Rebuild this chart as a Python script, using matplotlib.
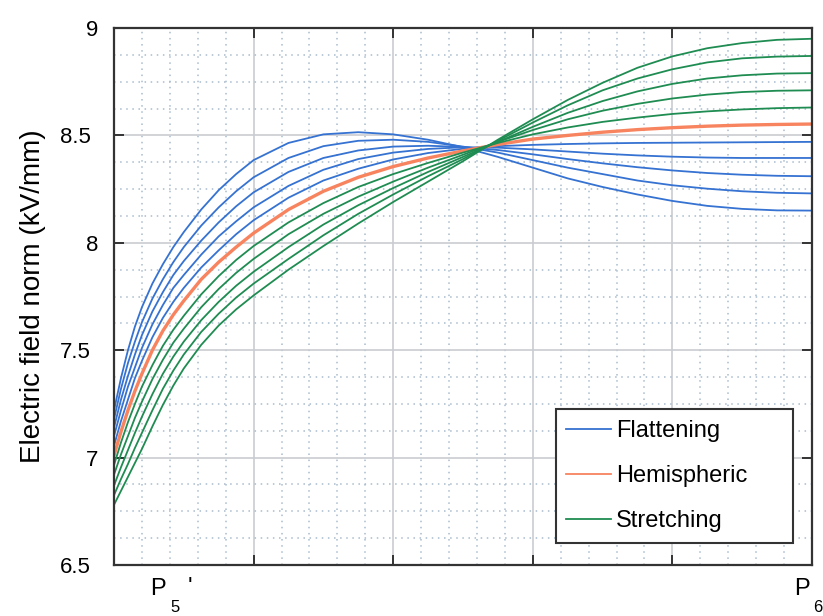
import numpy as np
import matplotlib
matplotlib.use("Agg")
import matplotlib.pyplot as plt
import matplotlib.transforms as mtransforms

plt.rcParams["font.family"] = ["Liberation Sans", "DejaVu Sans"]

# Posicion normalizada entre P5' y P6
x = [0, 0.01, 0.02, 0.03, 0.04, 0.055, 0.07, 0.085, 0.1, 0.125, 0.15, 0.175, 0.2, 0.25, 0.3,
     0.35, 0.4, 0.45, 0.5, 0.55, 0.6, 0.65, 0.7, 0.75, 0.8, 0.85, 0.9, 0.95, 1.0]

# Curvas "Flattening" (azul)
flat_1 = [7.22, 7.37, 7.50, 7.61, 7.70, 7.81, 7.90, 7.98, 8.05, 8.155, 8.245, 8.32, 8.385, 8.465, 8.505,
          8.515, 8.505, 8.48, 8.445, 8.40, 8.35, 8.30, 8.26, 8.225, 8.195, 8.172, 8.158, 8.151, 8.15]
flat_2 = [7.18, 7.32, 7.44, 7.54, 7.63, 7.74, 7.83, 7.91, 7.98, 8.08, 8.165, 8.24, 8.305, 8.395, 8.45,
          8.475, 8.48, 8.47, 8.448, 8.42, 8.385, 8.35, 8.32, 8.29, 8.268, 8.252, 8.24, 8.233, 8.23]
flat_3 = [7.14, 7.27, 7.38, 7.48, 7.57, 7.68, 7.77, 7.85, 7.915, 8.01, 8.095, 8.17, 8.235, 8.33, 8.395,
          8.43, 8.448, 8.452, 8.446, 8.432, 8.412, 8.39, 8.37, 8.352, 8.337, 8.325, 8.317, 8.312, 8.31]
flat_4 = [7.10, 7.22, 7.33, 7.42, 7.51, 7.62, 7.71, 7.79, 7.85, 7.945, 8.03, 8.10, 8.165, 8.265, 8.34,
          8.39, 8.42, 8.437, 8.445, 8.443, 8.435, 8.425, 8.415, 8.407, 8.401, 8.397, 8.395, 8.395, 8.395]
flat_5 = [7.055, 7.17, 7.27, 7.37, 7.45, 7.56, 7.65, 7.725, 7.79, 7.885, 7.965, 8.04, 8.105, 8.21, 8.29,
          8.345, 8.388, 8.418, 8.438, 8.45, 8.456, 8.46, 8.463, 8.465, 8.466, 8.467, 8.468, 8.469, 8.47]

# Curva "Hemispheric" (naranja)
hemi = [7.01, 7.12, 7.22, 7.31, 7.39, 7.50, 7.59, 7.665, 7.73, 7.83, 7.91, 7.98, 8.045, 8.155, 8.24,
        8.305, 8.355, 8.395, 8.428, 8.458, 8.483, 8.50, 8.515, 8.527, 8.536, 8.543, 8.548, 8.551, 8.553]

# Curvas "Stretching" (verde)
stre_1 = [6.965, 7.07, 7.165, 7.25, 7.33, 7.43, 7.52, 7.595, 7.66, 7.76, 7.845, 7.92, 7.985, 8.095, 8.185,
          8.26, 8.32, 8.372, 8.42, 8.465, 8.505, 8.537, 8.563, 8.583, 8.60, 8.612, 8.621, 8.627, 8.63]
stre_2 = [6.92, 7.015, 7.10, 7.185, 7.26, 7.365, 7.455, 7.535, 7.60, 7.70, 7.785, 7.86, 7.925, 8.04, 8.135,
          8.215, 8.285, 8.35, 8.41, 8.47, 8.525, 8.575, 8.615, 8.647, 8.672, 8.69, 8.702, 8.708, 8.71]
stre_3 = [6.87, 6.955, 7.035, 7.115, 7.19, 7.295, 7.39, 7.47, 7.54, 7.64, 7.725, 7.80, 7.865, 7.98, 8.085,
          8.175, 8.255, 8.33, 8.40, 8.47, 8.54, 8.605, 8.66, 8.705, 8.74, 8.765, 8.78, 8.788, 8.79]
stre_4 = [6.825, 6.90, 6.97, 7.045, 7.115, 7.22, 7.32, 7.405, 7.48, 7.585, 7.67, 7.745, 7.81, 7.925, 8.035,
          8.135, 8.225, 8.31, 8.39, 8.475, 8.56, 8.64, 8.71, 8.765, 8.808, 8.84, 8.859, 8.867, 8.87]
stre_5 = [6.78, 6.845, 6.91, 6.975, 7.04, 7.145, 7.245, 7.335, 7.415, 7.525, 7.615, 7.69, 7.755, 7.875, 7.985,
          8.09, 8.19, 8.285, 8.38, 8.48, 8.575, 8.665, 8.745, 8.815, 8.868, 8.906, 8.93, 8.945, 8.95]

flat = [flat_1, flat_2, flat_3, flat_4, flat_5]
stre = [stre_1, stre_2, stre_3, stre_4, stre_5]

yticks = [6.5, 7, 7.5, 8, 8.5, 9]
ytick_labels = ["6.5", "7", "7.5", "8", "8.5", "9"]

azul = "#3572d1"
naranja = "#f7845f"
verde = "#1f8c52"

fig = plt.figure(figsize=(8.23, 6.16), dpi=100)
ax = fig.add_axes([0.1385, 0.0828, 0.8481, 0.8717])

for i, c in enumerate(flat):
    ax.plot(x, c, color=azul, lw=1.3, label="Flattening" if i == 0 else None)
ax.plot(x, hemi, color=naranja, lw=2.4, label="Hemispheric")
for i, c in enumerate(stre):
    ax.plot(x, c, color=verde, lw=1.3, label="Stretching" if i == 0 else None)

ax.set_xlim(0, 1)
ax.set_ylim(6.5, 9)

# Rejilla
ax.set_xticks(np.arange(0, 1.01, 0.2))
ax.set_xticks(np.arange(0, 1.01, 0.04), minor=True)
ax.set_yticks(yticks)
ax.set_yticks(np.arange(6.5, 9.01, 0.125), minor=True)
ax.set_yticklabels(ytick_labels, fontsize=16)
ax.set_xticklabels([""] * 6)
ax.grid(which="major", color="#c9ccd0", lw=1.2, ls="-")
ax.grid(which="minor", color="#a9bccd", lw=1.1, ls=(0, (1, 3)))
ax.set_axisbelow(True)
ax.tick_params(which="major", direction="in", length=7, width=1.4, color="#333333",
               top=True, right=True, pad=11.5)
ax.tick_params(which="minor", length=0)
for s in ax.spines.values():
    s.set_linewidth(1.6)
    s.set_color("#333333")

# las etiquetas con decimal quedan algo mas a la izquierda
desplaza = mtransforms.ScaledTranslation(-0.07, 0, fig.dpi_scale_trans)
for lab in ax.get_yticklabels():
    if "." in lab.get_text():
        lab.set_transform(lab.get_transform() + desplaza)

ax.set_ylabel("Electric field norm (kV/mm)", fontsize=20, labelpad=10)

# Etiquetas de los extremos
ax.text(0.063, -0.025, "P", transform=ax.transAxes, fontsize=17, ha="center", va="top")
ax.text(0.087, -0.065, "5", transform=ax.transAxes, fontsize=12, ha="center", va="top")
ax.text(0.109, -0.022, "'", transform=ax.transAxes, fontsize=17, ha="center", va="top")
ax.text(0.985, -0.025, "P", transform=ax.transAxes, fontsize=17, ha="center", va="top")
ax.text(1.0143, -0.065, "6", transform=ax.transAxes, fontsize=12, ha="right", va="top")

leg = ax.legend(loc="lower left", bbox_to_anchor=(0.633, 0.041, 0.3395, 0.25), mode="expand",
                fontsize=17, fancybox=False, framealpha=1, edgecolor="#333333",
                handlelength=1.9, labelspacing=0.98, borderpad=0.45, handletextpad=0.2,
                borderaxespad=0)
leg.get_frame().set_linewidth(1.5)
for h in leg.get_lines():
    h.set_linewidth(1.3)

plt.savefig("out.png", dpi=100)
